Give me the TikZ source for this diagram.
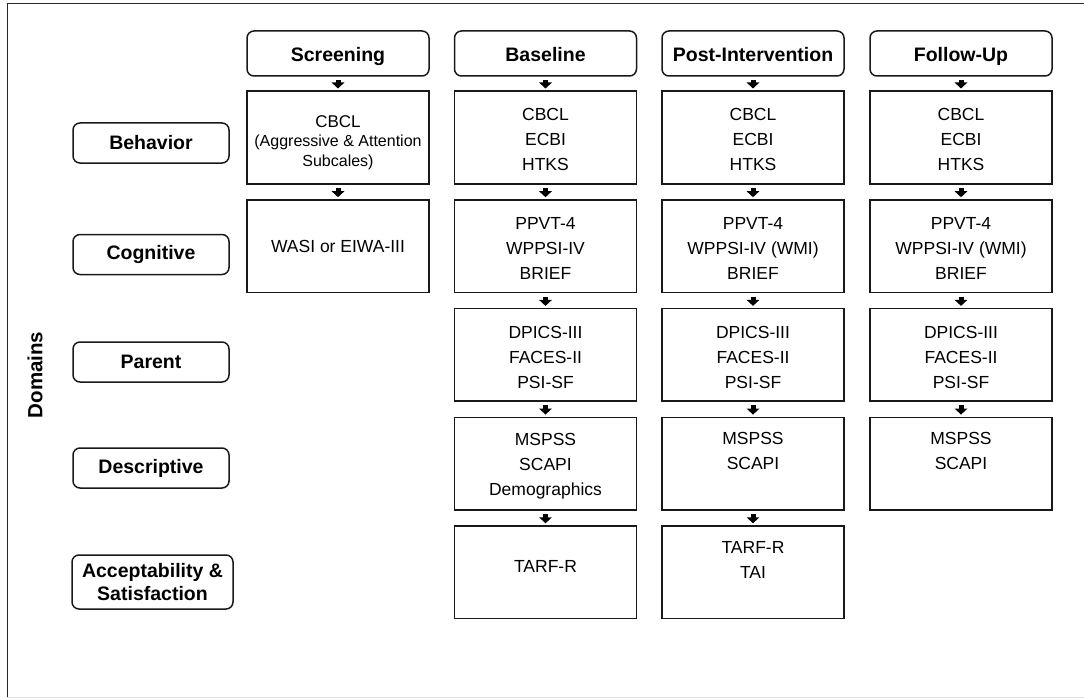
\documentclass[tikz,border=0pt]{standalone}
\usepackage{fontspec}
\setmainfont{Liberation Sans}
\usetikzlibrary{arrows.meta}
% invisible strut that lowers a block of lines a little
\newcommand\hdstrut[1][17pt]{\rule{0pt}{#1}}
\begin{document}
\begin{tikzpicture}[x=1pt,y=-1pt,
  phasebox/.style={draw=black!90, line width=1.5pt, rounded corners=7pt,
    minimum width=182pt, minimum height=45pt, inner sep=0pt,
    text height=17pt, text depth=1.5pt,
    font=\fontsize{19.5}{22}\selectfont\bfseries},
  areabox/.style={draw=black!90, line width=1.5pt, rounded corners=7pt,
    minimum width=156pt, minimum height=40pt, inner sep=0pt, align=center,
    font=\fontsize{19.5}{22.5}\selectfont\bfseries},
  measurebox/.style={draw=black!90, line width=1.5pt, minimum width=182pt,
    minimum height=92.5pt, inner sep=0pt, align=center,
    font=\fontsize{17.5}{25}\selectfont},
  flowarrow/.style={line width=5pt, draw=black,
    -{Triangle[width=12.5pt,length=6pt]}, shorten <=3.5pt, shorten >=2pt}
]
\useasboundingbox (0,0) rectangle (1084,698);

% outer frame
\draw[line width=1pt, black!85] (7,698) -- (7,3.5) -- (1084,3.5);
\draw[line width=1pt, black!12] (7,697) -- (1084,697);

% side title
\node[rotate=90, font=\fontsize{20.5}{24}\selectfont\bfseries] (domains) at (35,375) {Domains};

% domain labels
\node[areabox] (dbeh) at (151,143) {Behavior};
\node[areabox] (dcog) at (151,254.5) {Cognitive};
\node[areabox] (dpar) at (151,362) {Parent};
\node[areabox] (ddes) at (151,468) {Descriptive};
\node[areabox, minimum width=161pt, minimum height=54pt] (dacc) at (152.5,582) {Acceptability \&\\Satisfaction};

% phase headers
\node[phasebox] (hs) at (338,53.5) {Screening};
\node[phasebox] (hb) at (545.5,53.5) {Baseline};
\node[phasebox] (hp) at (753,53.5) {Post-Intervention};
\node[phasebox] (hf) at (961,53.5) {Follow-Up};

% screening
\node[measurebox, font=\fontsize{16}{19.5}\selectfont] (s1) at (338,137.5)
  {\hdstrut[22pt]{\fontsize{17}{19.5}\selectfont CBCL}\\(Aggressive \& Attention\\Subcales)};
\node[measurebox] (s2) at (338,246.2) {WASI or EIWA-III};

% baseline
\node[measurebox] (b1) at (545.5,137.5) {\hdstrut CBCL\\ECBI\\HTKS};
\node[measurebox] (b2) at (545.5,246.2) {\hdstrut PPVT-4\\WPPSI-IV\\BRIEF};
\node[measurebox] (b3) at (545.5,354.9) {\hdstrut DPICS-III\\FACES-II\\PSI-SF};
\node[measurebox] (b4) at (545.5,463.6) {\hdstrut MSPSS\\SCAPI\\Demographics};
\node[measurebox] (b5) at (545.5,572.3) {TARF-R\\[-13pt]\mbox{}};

% post-intervention
\node[measurebox] (p1) at (753,137.5) {\hdstrut CBCL\\ECBI\\HTKS};
\node[measurebox] (p2) at (753,246.2) {\hdstrut PPVT-4\\WPPSI-IV (WMI)\\BRIEF};
\node[measurebox] (p3) at (753,354.9) {\hdstrut DPICS-III\\FACES-II\\PSI-SF};
\node[measurebox] (p4) at (753,463.6) {MSPSS\\SCAPI\\\mbox{}};
\node[measurebox] (p5) at (753,572.3) {TARF-R\\TAI\\\mbox{}};

% follow-up
\node[measurebox] (f1) at (961,137.5) {\hdstrut CBCL\\ECBI\\HTKS};
\node[measurebox] (f2) at (961,246.2) {\hdstrut PPVT-4\\WPPSI-IV (WMI)\\BRIEF};
\node[measurebox] (f3) at (961,354.9) {\hdstrut DPICS-III\\FACES-II\\PSI-SF};
\node[measurebox] (f4) at (961,463.6) {MSPSS\\SCAPI\\\mbox{}};

% flow arrows
\draw[flowarrow] (hs) -- (s1);
\draw[flowarrow] (s1) -- (s2);
\draw[flowarrow] (hb) -- (b1);
\draw[flowarrow] (b1) -- (b2);
\draw[flowarrow] (b2) -- (b3);
\draw[flowarrow] (b3) -- (b4);
\draw[flowarrow] (b4) -- (b5);
\draw[flowarrow] (hp) -- (p1);
\draw[flowarrow] (p1) -- (p2);
\draw[flowarrow] (p2) -- (p3);
\draw[flowarrow] (p3) -- (p4);
\draw[flowarrow] (p4) -- (p5);
\draw[flowarrow] (hf) -- (f1);
\draw[flowarrow] (f1) -- (f2);
\draw[flowarrow] (f2) -- (f3);
\draw[flowarrow] (f3) -- (f4);
\end{tikzpicture}
\end{document}
